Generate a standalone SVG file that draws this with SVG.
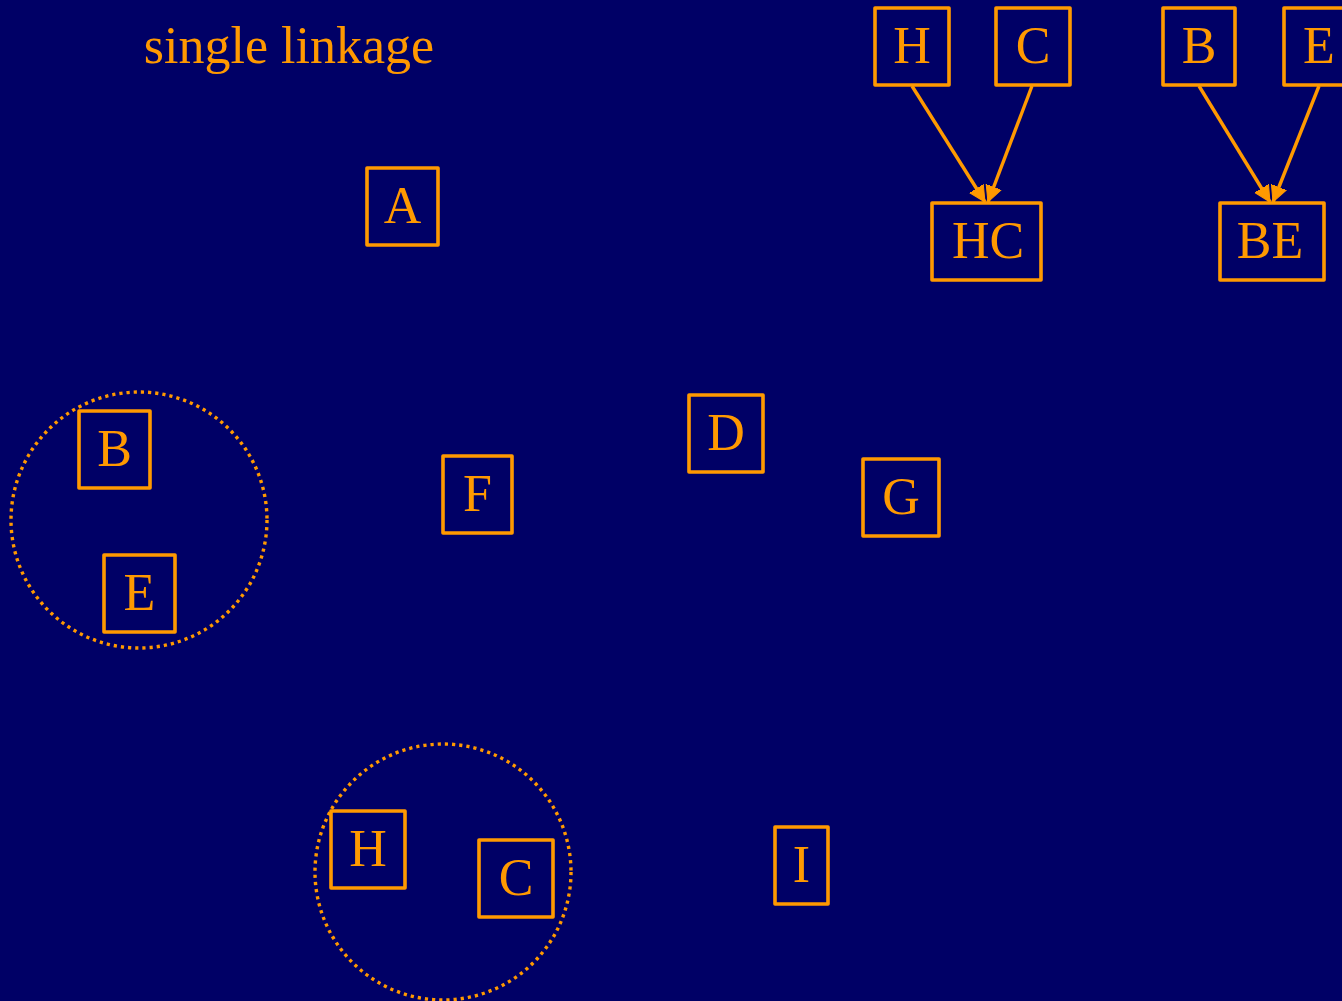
<svg xmlns="http://www.w3.org/2000/svg" width="1342" height="1001" viewBox="0 0 1342 1001">
<defs>
<style>
.box{fill:none;stroke:#ff9900;stroke-width:3.6;stroke-linejoin:round}
.lbl{font-family:"Liberation Serif","DejaVu Serif",serif;font-size:52px;fill:#ff9900;text-anchor:middle}
.ring{fill:none;stroke:#ff9900;stroke-width:3.4;stroke-dasharray:3.2 4}
.edge{stroke:#ff9900;stroke-width:3.4;fill:none}
</style>
<marker id="ah" markerUnits="userSpaceOnUse" markerWidth="18" markerHeight="18" refX="16" refY="8" orient="auto" viewBox="0 0 18 16">
<path d="M0,0 L16,8 L0,16 Z" fill="#ff9900" stroke="#ff9900" stroke-width="1" stroke-linejoin="round"/>
</marker>
</defs>
<rect width="1342" height="1001" fill="#000066"/>
<text x="289" y="63" class="lbl" id="title">single linkage</text>
<g id="clusters">
<circle class="ring" cx="139" cy="520" r="128"/>
<circle class="ring" cx="443" cy="872" r="128"/>
</g>
<g id="connectors">
<line class="edge" x1="912" y1="86" x2="985" y2="202" marker-end="url(#ah)"/>
<line class="edge" x1="1032" y1="86" x2="988" y2="202" marker-end="url(#ah)"/>
<line class="edge" x1="1199" y1="86" x2="1270" y2="202" marker-end="url(#ah)"/>
<line class="edge" x1="1319" y1="86" x2="1273" y2="202" marker-end="url(#ah)"/>
</g>
<g id="nA"><rect class="box" x="367" y="168" width="71" height="77"/><text class="lbl" x="402.5" y="223">A</text></g>
<g id="nB"><rect class="box" x="79" y="411" width="71" height="77"/><text class="lbl" x="114.5" y="466">B</text></g>
<g id="nE"><rect class="box" x="104" y="555" width="71" height="77"/><text class="lbl" x="139.5" y="610">E</text></g>
<g id="nF"><rect class="box" x="443" y="456" width="69" height="77"/><text class="lbl" x="477.5" y="511">F</text></g>
<g id="nD"><rect class="box" x="689" y="395" width="74" height="77"/><text class="lbl" x="726" y="450">D</text></g>
<g id="nG"><rect class="box" x="863" y="459" width="76" height="77"/><text class="lbl" x="901" y="514">G</text></g>
<g id="nH"><rect class="box" x="331" y="811" width="74" height="77"/><text class="lbl" x="368" y="866">H</text></g>
<g id="nC"><rect class="box" x="479" y="840" width="74" height="77"/><text class="lbl" x="516" y="895">C</text></g>
<g id="nI"><rect class="box" x="775" y="827" width="53" height="77"/><text class="lbl" x="801.5" y="882">I</text></g>
<g id="tH"><rect class="box" x="875" y="8" width="74" height="77"/><text class="lbl" x="912" y="63">H</text></g>
<g id="tC"><rect class="box" x="996" y="8" width="74" height="77"/><text class="lbl" x="1033" y="63">C</text></g>
<g id="tHC"><rect class="box" x="932" y="203" width="109" height="77"/><text class="lbl" x="988" y="258">HC</text></g>
<g id="tB"><rect class="box" x="1163" y="8" width="72" height="77"/><text class="lbl" x="1199" y="63">B</text></g>
<g id="tE"><rect class="box" x="1284" y="8" width="72" height="77"/><text class="lbl" x="1319" y="63">E</text></g>
<g id="tBE"><rect class="box" x="1220" y="203" width="104" height="77"/><text class="lbl" x="1270" y="258">BE</text></g>
</svg>
